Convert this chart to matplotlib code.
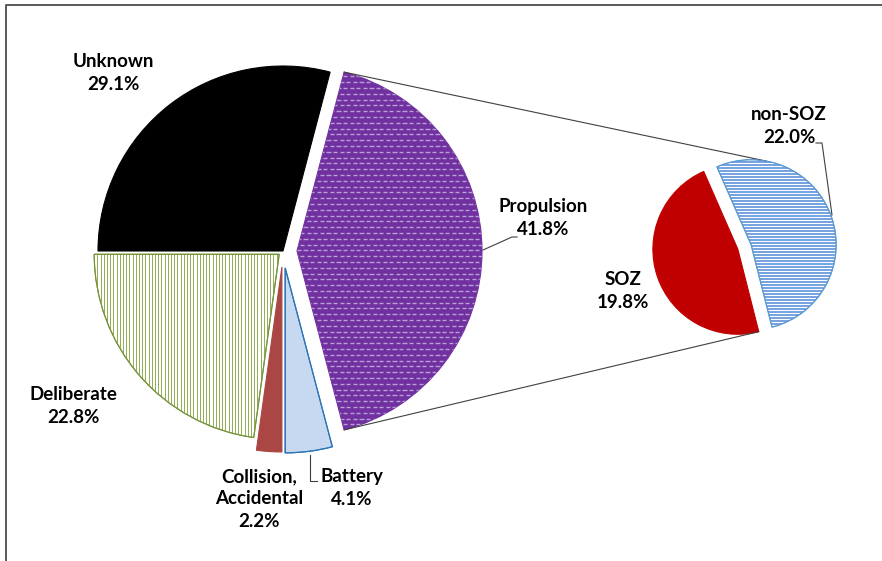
import numpy as np
import matplotlib
matplotlib.use("Agg")
import matplotlib.pyplot as plt
from matplotlib.collections import LineCollection
from matplotlib.lines import Line2D
from matplotlib.patches import Wedge

W, H = 882, 561

# main pie, drawn clockwise from the Propulsion slice
main_labels = ["Propulsion", "Battery", "Collision,\nAccidental", "Deliberate", "Unknown"]
main_values = [41.8, 4.1, 2.2, 22.8, 29.1]
main_colors = ["#7030A0", "#C6D9F1", "#AA4643", "#FFFFFF", "#000000"]
main_edges = ["#7030A0", "#2E75B6", "#AA4643", "#77933C", "#000000"]
main_explode = [14, 17, 16, 5, 0]

# breakdown of Propulsion
sub_labels = ["SOZ", "non-SOZ"]
sub_values = [19.8, 22.0]
sub_colors = ["#C00000", "#FFFFFF"]
sub_edges = ["#C00000", "#5B9BD5"]
sub_explode = [7, 7]

plt.rcParams['font.family'] = ['Lato', 'DejaVu Sans']


def fy(y):
    return H - y


def stripes(wedge, step, color, lw, horizontal=True, dash=None, gap=None):
    cx, cy = wedge.center
    r = wedge.r
    segs = []
    for k, p in enumerate(np.arange(-r, r + step, step)):
        if dash is None:
            runs = [(-r, r)]
        else:
            period = dash + gap
            off = (k % 2) * period / 2
            starts = np.arange(-r - period + off, r, period)
            runs = [(s, s + dash) for s in starts]
        for a, b in runs:
            if horizontal:
                segs.append([(cx + a, cy + p), (cx + b, cy + p)])
            else:
                segs.append([(cx + p, cy + a), (cx + p, cy + b)])
    lc = LineCollection(segs, colors=color, linewidths=lw, zorder=2)
    ax.add_collection(lc)
    lc.set_clip_path(wedge)


def outline(wedge, color, lw):
    ax.add_patch(Wedge(wedge.center, wedge.r, wedge.theta1, wedge.theta2,
                       fill=False, edgecolor=color, linewidth=lw, zorder=3))


fig = plt.figure(figsize=(W / 100, H / 100), dpi=100)
ax = fig.add_axes([0, 0, 1, 1])

main_wedges, _ = ax.pie(main_values, colors=main_colors, explode=main_explode,
                        center=(283, fy(251)), radius=185,
                        startangle=main_values[0] / sum(main_values) * 180,
                        counterclock=False, frame=True,
                        wedgeprops=dict(linewidth=0.8))
for w, ec in zip(main_wedges, main_edges):
    w.set_edgecolor(ec)

sub_wedges, _ = ax.pie(sub_values, colors=sub_colors, explode=sub_explode,
                       center=(744.5, fy(247)), radius=85,
                       startangle=113.7, counterclock=True, frame=True,
                       wedgeprops=dict(linewidth=0.8))
for w, ec in zip(sub_wedges, sub_edges):
    w.set_edgecolor(ec)

# fill patterns
stripes(main_wedges[0], 5.8, "#B9A0D4", 1.0, dash=4.2, gap=2.4)
stripes(main_wedges[3], 3.2, "#8DAE4E", 0.7, horizontal=False)
outline(main_wedges[3], "#77933C", 0.8)
outline(main_wedges[1], "#2E75B6", 0.9)
stripes(sub_wedges[1], 3.0, "#5C92D8", 1.2)
outline(sub_wedges[1], "#5B9BD5", 0.8)

# connector lines between the two pies
prop = main_wedges[0]
pc = np.array(prop.center)
t_top, t_bot = np.radians(prop.theta2), np.radians(prop.theta1)
p_top = pc + prop.r * np.array([np.cos(t_top), np.sin(t_top)])
p_bot = pc + prop.r * np.array([np.cos(t_bot), np.sin(t_bot)])
ns, soz = sub_wedges[1], sub_wedges[0]
a = np.radians(80)
q_top = np.array(ns.center) + ns.r * np.array([np.cos(a), np.sin(a)])
b = np.radians(soz.theta2)
q_bot = np.array(soz.center) + soz.r * np.array([np.cos(b), np.sin(b)])
for p, q in [(p_top, q_top), (p_bot, q_bot)]:
    ax.plot([p[0], q[0]], [p[1], q[1]], color="#404040", lw=0.8, zorder=1)

# leader lines
leaders = [
    [(483, 250), (512, 237), (517, 237)],
    [(310, 455), (310, 481), (317, 481)],
    [(816, 143), (822, 143), (832, 215)],
]
for pts in leaders:
    xs, ys = zip(*pts)
    ax.plot(xs, [fy(y) for y in ys], color="#404040", lw=0.8, zorder=4)

# data labels
label_pos = {
    "Propulsion": (543, 218),
    "Battery": (352, 488),
    "Collision,\nAccidental": (259, 499),
    "Deliberate": (73, 406),
    "Unknown": (113, 73),
    "SOZ": (623, 291),
    "non-SOZ": (789, 126),
}
for name, val in list(zip(main_labels, main_values)) + list(zip(sub_labels, sub_values)):
    x, y = label_pos[name]
    ax.text(x, fy(y), f"{name}\n{val:.1f}%", ha="center", va="center",
            fontsize=13.5, fontweight="bold", linespacing=1.4, zorder=5)

ax.set_xlim(0, W)
ax.set_ylim(0, H)
ax.set_aspect("auto")
ax.axis("off")

# chart area border
fig.add_artist(Line2D([6 / W, 6 / W, 1], [0, 1 - 5 / H, 1 - 5 / H],
                      transform=fig.transFigure, color="#595959", lw=1.4))

fig.savefig("out.png", dpi=100)
